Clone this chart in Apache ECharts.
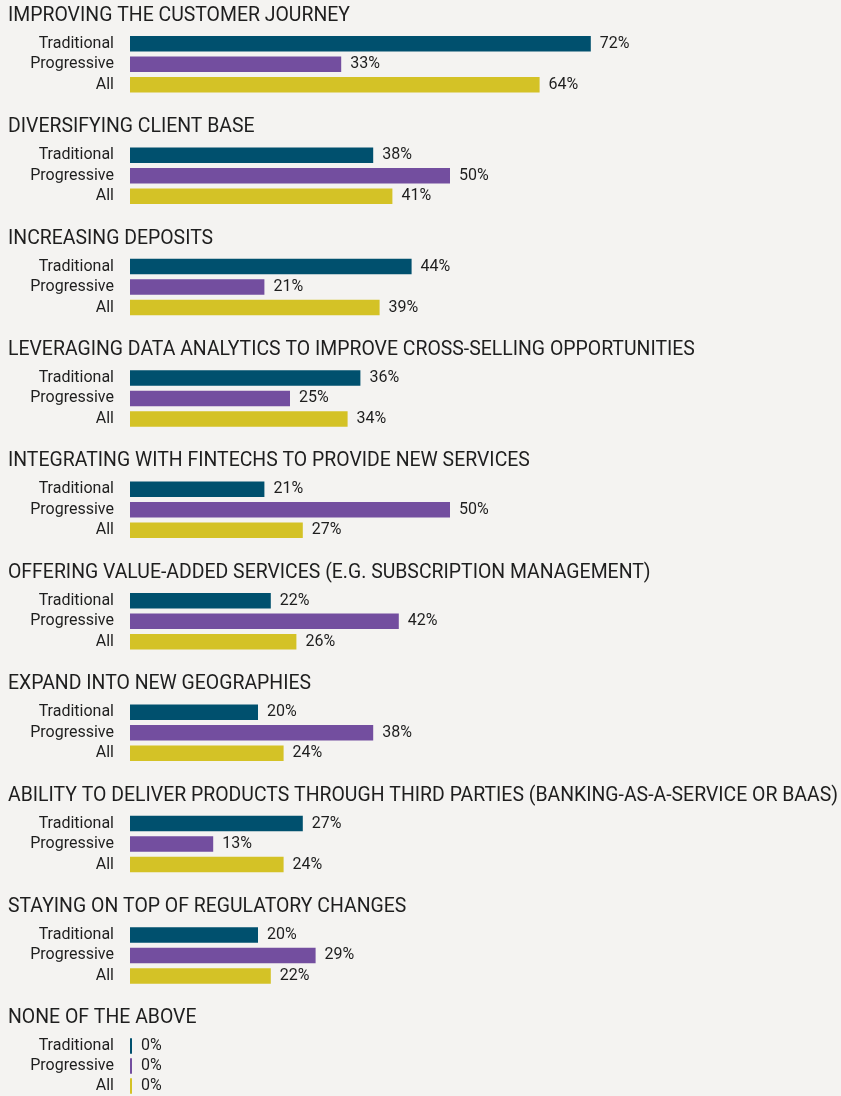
<!DOCTYPE html>
<html><head><meta charset="utf-8">
<script src="https://cdn.jsdelivr.net/npm/echarts@6/dist/echarts.min.js"></script>
<style>html,body{margin:0;padding:0;background:#f4f3f1;}#c{width:841px;height:1096px;}</style>
</head><body><div id="c"></div>
<script>
const groups = [
  "IMPROVING THE CUSTOMER JOURNEY",
  "DIVERSIFYING CLIENT BASE",
  "INCREASING DEPOSITS",
  "LEVERAGING DATA ANALYTICS TO IMPROVE CROSS-SELLING OPPORTUNITIES",
  "INTEGRATING WITH FINTECHS TO PROVIDE NEW SERVICES",
  "OFFERING VALUE-ADDED SERVICES (E.G. SUBSCRIPTION MANAGEMENT)",
  "EXPAND INTO NEW GEOGRAPHIES",
  "ABILITY TO DELIVER PRODUCTS THROUGH THIRD PARTIES (BANKING-AS-A-SERVICE OR BAAS)",
  "STAYING ON TOP OF REGULATORY CHANGES",
  "NONE OF THE ABOVE"
];
const segments = ["Traditional", "Progressive", "All"];
const traditional = [72, 38, 44, 36, 21, 22, 20, 27, 20, 0];
const progressive = [33, 50, 21, 25, 50, 42, 38, 13, 29, 0];
const allBanks    = [64, 41, 39, 34, 27, 26, 24, 24, 22, 0];
const colors = ["#00506e", "#734e9f", "#d4c226"];

const FONT = "Roboto";
const step = 111.4;
const grids = [], xAxes = [], yAxes = [], series = [], graphics = [];
groups.forEach((g, i) => {
  grids.push({ left: 130, width: 640, top: 33.5 + i * step, height: 61.5 });
  xAxes.push({ gridIndex: i, type: 'value', min: 0, max: 100, show: false });
  yAxes.push({
    gridIndex: i, type: 'category', data: segments, inverse: true,
    axisLine: { show: false }, axisTick: { show: false }, splitLine: { show: false },
    axisLabel: { color: '#1e1e1e', fontSize: 16, fontFamily: FONT, margin: 16, interval: 0 }
  });
  const vals = [traditional[i], progressive[i], allBanks[i]];
  series.push({
    type: 'bar', xAxisIndex: i, yAxisIndex: i, barWidth: 15.5, barMinHeight: 2,
    data: vals.map((v, k) => ({ value: v, itemStyle: { color: colors[k] } })),
    label: { show: true, position: 'right', distance: 9, formatter: '{c}%',
      color: '#1e1e1e', fontSize: 16, fontFamily: FONT },
    silent: true, animation: false
  });
  graphics.push({
    type: 'text', left: 8, top: 5 + i * step, scaleX: 0.925,
    style: { text: g, fill: '#1e1e1e', font: '21px ' + FONT }
  });
});

const chart = echarts.init(document.getElementById('c'), null, { renderer: 'canvas' });
chart.setOption({
  backgroundColor: '#f4f3f1',
  animation: false,
  grid: grids, xAxis: xAxes, yAxis: yAxes, series: series,
  graphic: graphics
});
</script></body></html>
